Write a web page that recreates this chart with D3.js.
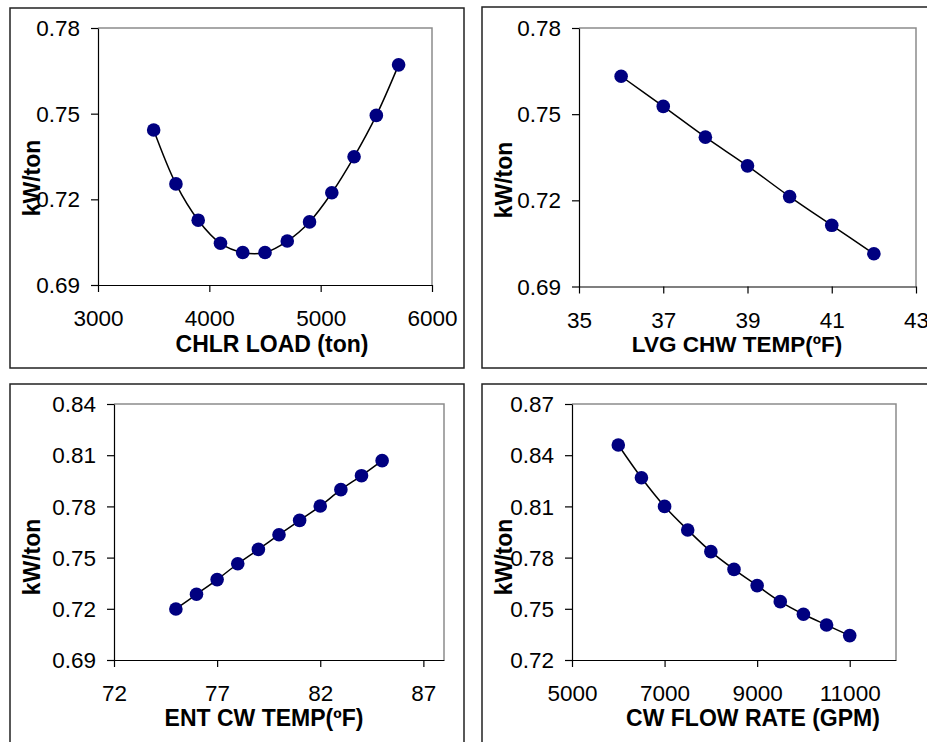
<!DOCTYPE html>
<html>
<head>
<meta charset="utf-8">
<script src="https://cdn.jsdelivr.net/npm/d3@7"></script>
<style>
  html, body { margin: 0; padding: 0; background: #fff; }
  svg { display: block; }
  text { font-family: "Liberation Sans", Arial, sans-serif; fill: #000; }
</style>
</head>
<body>
<svg id="chart" width="927" height="742"></svg>
<script>
// ---- Data ----
const loadX = [3500, 3700, 3900, 4100, 4300, 4500, 4700, 4900, 5100, 5300, 5500, 5700];
const loadY = [0.7443, 0.7254, 0.7127, 0.7046, 0.7014, 0.7014, 0.7054, 0.7121, 0.7223, 0.7349, 0.7494, 0.7671];

const chwX = [36, 37, 38, 39, 40, 41, 42];
const chwY = [0.7632, 0.7527, 0.7420, 0.7320, 0.7213, 0.7113, 0.7014];

const cwTempX = [75, 76, 77, 78, 79, 80, 81, 82, 83, 84, 85];
const cwTempY = [0.7199, 0.7285, 0.7371, 0.7464, 0.7548, 0.7634, 0.7718, 0.7802, 0.7898, 0.7980, 0.8068];

const flowX = [6000, 6500, 7000, 7500, 8000, 8500, 9000, 9500, 10000, 10500, 11000];
const flowY = [0.8460, 0.8268, 0.8100, 0.7962, 0.7835, 0.7731, 0.7636, 0.7542, 0.7468, 0.7405, 0.7343];

const loadTicks = [3000, 4000, 5000, 6000];
const chwTicks = [35, 37, 39, 41, 43];
const cwTempTicks = [72, 77, 82, 87];
const flowTicks = [5000, 7000, 9000, 11000];
const yTicksA = [0.69, 0.72, 0.75, 0.78];
const yTicksB = [0.69, 0.72, 0.75, 0.78, 0.81, 0.84];
const yTicksC = [0.72, 0.75, 0.78, 0.81, 0.84, 0.87];

const titles = ["CHLR LOAD (ton)", "LVG CHW TEMP(\u00baF)", "ENT CW TEMP(\u00baF)", "CW FLOW RATE (GPM)"];
const yTitle = "kW/ton";

// ---- Layout ----
const panels = [
  { xs: loadX, ys: loadY, xDom: [3000, 6000], yDom: [0.69, 0.78], xt: loadTicks, yt: yTicksA, yFmt: d3.format(".2f"),
    box: [10, 8, 464, 368], plot: [98, 28, 432, 285], title: titles[0], tx: 272, ty: 352, tfs: 23, lx: 40, ly: 178 },
  { xs: chwX, ys: chwY, xDom: [35, 43], yDom: [0.69, 0.78], xt: chwTicks, yt: yTicksA, yFmt: d3.format(".2f"),
    box: [482, 7, 940, 368], plot: [579, 28, 916, 286.5], title: titles[1], tx: 737, ty: 351.5, tfs: 22.5, lx: 512, ly: 180 },
  { xs: cwTempX, ys: cwTempY, xDom: [72, 88], yDom: [0.69, 0.84], xt: cwTempTicks, yt: yTicksB, yFmt: d3.format(".2f"),
    box: [10, 384, 464, 760], plot: [114, 404, 444, 660], title: titles[2], tx: 264, ty: 726, tfs: 23, lx: 40, ly: 557 },
  { xs: flowX, ys: flowY, xDom: [5000, 12000], yDom: [0.72, 0.87], xt: flowTicks, yt: yTicksC, yFmt: d3.format(".2f"),
    box: [482, 384, 940, 760], plot: [572, 404, 896, 660], title: titles[3], tx: 753, ty: 726, tfs: 23, lx: 512, ly: 557 }
];

const svg = d3.select("#chart");

panels.forEach(p => {
  const [bx0, by0, bx1, by1] = p.box;
  svg.append("rect")
    .attr("x", bx0).attr("y", by0).attr("width", bx1 - bx0).attr("height", by1 - by0)
    .attr("fill", "#fff").attr("stroke", "#222").attr("stroke-width", 1.5);

  const [px0, py0, px1, py1] = p.plot;
  const x = d3.scaleLinear().domain(p.xDom).range([px0, px1]);
  const y = d3.scaleLinear().domain(p.yDom).range([py1, py0]);
  const g = svg.append("g");

  // plot area top/right border (gray)
  g.append("path")
    .attr("d", `M${px0},${py0}H${px1}V${py1}`)
    .attr("fill", "none").attr("stroke", "#8c8c8c").attr("stroke-width", 1.5);

  // axes
  const xAxis = d3.axisBottom(x).tickValues(p.xt).tickSize(7).tickSizeOuter(0).tickFormat(d3.format("d"));
  const yAxis = d3.axisLeft(y).tickValues(p.yt).tickSize(7).tickSizeOuter(0).tickFormat(p.yFmt);

  const gx = g.append("g").attr("transform", `translate(0,${py1})`).call(xAxis);
  const gy = g.append("g").attr("transform", `translate(${px0},0)`).call(yAxis);
  [gx, gy].forEach(a => {
    a.select(".domain").attr("stroke", "#000").attr("stroke-width", 1.2);
    a.selectAll(".tick line").attr("stroke", "#000").attr("stroke-width", 1.2);
    a.selectAll("text").attr("font-family", "'Liberation Sans', Arial, sans-serif")
      .attr("font-size", 22.5).attr("fill", "#000");
  });
  gx.selectAll(".tick text").attr("dy", null).attr("y", 41);
  gy.selectAll(".tick text").attr("x", -18).attr("dy", "0.34em");

  // line
  const pts = p.xs.map((v, i) => [v, p.ys[i]]);
  const line = d3.line().x(d => x(d[0])).y(d => y(d[1])).curve(d3.curveCatmullRom.alpha(0.5));
  g.append("path").datum(pts).attr("d", line)
    .attr("fill", "none").attr("stroke", "#000").attr("stroke-width", 1.5);

  g.selectAll("circle.pt").data(pts).join("circle").attr("class", "pt")
    .attr("cx", d => x(d[0])).attr("cy", d => y(d[1])).attr("r", 6.8)
    .attr("fill", "#000080");

  // titles
  svg.append("text").attr("x", p.tx).attr("y", p.ty).attr("text-anchor", "middle")
    .attr("font-size", p.tfs).attr("font-weight", "bold").text(p.title);
  svg.append("text").attr("transform", `translate(${p.lx},${p.ly}) rotate(-90)`)
    .attr("text-anchor", "middle").attr("font-size", 23).attr("font-weight", "bold").text(yTitle);
});
</script>
</body>
</html>
